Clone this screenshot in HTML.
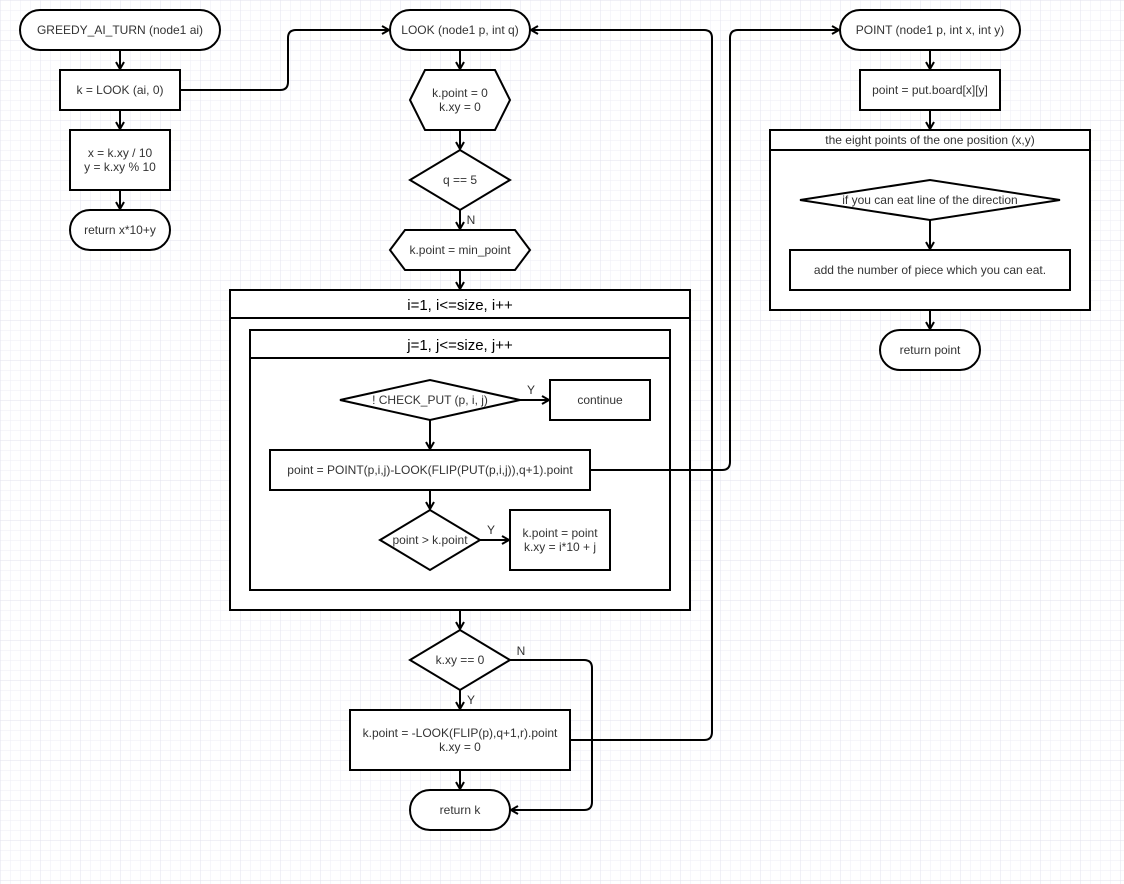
<!DOCTYPE html>
<html><head><meta charset="utf-8"><style>
html,body{margin:0;padding:0;background:#fff}
svg{display:block;font-family:"Liberation Sans",Arial,sans-serif}
</style></head><body>
<svg width="1124" height="884" viewBox="0 0 1124 884" xmlns="http://www.w3.org/2000/svg">
<defs>
<pattern id="g" width="10" height="10" patternUnits="userSpaceOnUse"><path d="M10 0H0V10" fill="none" stroke="#eeeef6" stroke-width="1"/></pattern>
<pattern id="G" width="40" height="40" patternUnits="userSpaceOnUse"><rect width="40" height="40" fill="url(#g)"/><path d="M40 0H0V40" fill="none" stroke="#e2e2ee" stroke-width="1"/></pattern>
<marker id="a" markerWidth="10" markerHeight="10" refX="8" refY="5" orient="auto" markerUnits="userSpaceOnUse"><path d="M1 1L8 5L1 9" fill="none" stroke="#000" stroke-width="2"/></marker>
</defs>
<rect width="1124" height="884" fill="url(#G)"/>
<g fill="#fff" stroke="#000" stroke-width="2">
<rect x="20" y="10" width="200" height="40" rx="20"/>
<rect x="60" y="70" width="120" height="40"/>
<rect x="70" y="130" width="100" height="60"/>
<rect x="70" y="210" width="100" height="40" rx="20"/>
<rect x="390" y="10" width="140" height="40" rx="20"/>
<polygon points="410,100 425,70 495,70 510,100 495,130 425,130"/>
<polygon points="410,180 460,150 510,180 460,210"/>
<polygon points="390,250 405,230 515,230 530,250 515,270 405,270"/>
<rect x="230" y="290" width="460" height="320"/>
<line x1="230" y1="318" x2="690" y2="318"/>
<rect x="250" y="330" width="420" height="260"/>
<line x1="250" y1="358" x2="670" y2="358"/>
<polygon points="340,400 430,380 520,400 430,420"/>
<rect x="550" y="380" width="100" height="40"/>
<rect x="270" y="450" width="320" height="40"/>
<polygon points="380,540 430,510 480,540 430,570"/>
<rect x="510" y="510" width="100" height="60"/>
<polygon points="410,660 460,630 510,660 460,690"/>
<rect x="350" y="710" width="220" height="60"/>
<rect x="410" y="790" width="100" height="40" rx="20"/>
<rect x="840" y="10" width="180" height="40" rx="20"/>
<rect x="860" y="70" width="140" height="40"/>
<rect x="770" y="130" width="320" height="180"/>
<line x1="770" y1="150" x2="1090" y2="150"/>
<polygon points="800,200 930,180 1060,200 930,220"/>
<rect x="790" y="250" width="280" height="40"/>
<rect x="880" y="330" width="100" height="40" rx="20"/>
</g>
<g fill="none" stroke="#000" stroke-width="2" marker-end="url(#a)">
<path d="M120 50V69"/><path d="M120 110V129"/><path d="M120 190V209"/>
<path d="M180 90H280Q288 90 288 82V38Q288 30 296 30H389"/>
<path d="M460 50V69"/><path d="M460 130V149"/><path d="M460 210V229"/><path d="M460 270V289"/>
<path d="M520 400H549"/><path d="M430 420V449"/><path d="M430 490V509"/><path d="M480 540H509"/>
<path d="M590 470H722Q730 470 730 462V38Q730 30 738 30H839"/>
<path d="M570 740H704Q712 740 712 732V38Q712 30 704 30H531"/>
<path d="M460 610V629"/><path d="M460 690V709"/><path d="M460 770V789"/>
<path d="M510 660H584Q592 660 592 668V802Q592 810 584 810H511"/>
<path d="M930 50V69"/><path d="M930 110V129"/><path d="M930 220V249"/><path d="M930 310V329"/>
</g>
<g font-size="12" fill="#333" text-anchor="middle">
<text x="120" y="34">GREEDY_AI_TURN (node1 ai)</text>
<text x="120" y="94">k = LOOK (ai, 0)</text>
<text x="120" y="157">x = k.xy / 10</text><text x="120" y="171">y = k.xy % 10</text>
<text x="120" y="234">return x*10+y</text>
<text x="460" y="34">LOOK (node1 p, int q)</text>
<text x="460" y="97">k.point = 0</text><text x="460" y="111">k.xy = 0</text>
<text x="460" y="184">q == 5</text>
<text x="471" y="224">N</text>
<text x="460" y="254">k.point = min_point</text>
<text x="460" y="310" font-size="15" fill="#000">i=1, i&lt;=size, i++</text>
<text x="460" y="350" font-size="15" fill="#000">j=1, j&lt;=size, j++</text>
<text x="430" y="404">! CHECK_PUT (p, i, j)</text>
<text x="531" y="394">Y</text>
<text x="600" y="404">continue</text>
<text x="430" y="474">point = POINT(p,i,j)-LOOK(FLIP(PUT(p,i,j)),q+1).point</text>
<text x="430" y="544">point &gt; k.point</text>
<text x="491" y="534">Y</text>
<text x="560" y="537">k.point = point</text><text x="560" y="551">k.xy = i*10 + j</text>
<text x="460" y="664">k.xy == 0</text>
<text x="521" y="655">N</text>
<text x="471" y="704">Y</text>
<text x="460" y="737">k.point = -LOOK(FLIP(p),q+1,r).point</text><text x="460" y="751">k.xy = 0</text>
<text x="460" y="814">return k</text>
<text x="930" y="34">POINT (node1 p, int x, int y)</text>
<text x="930" y="94">point = put.board[x][y]</text>
<text x="930" y="144">the eight points of the one position (x,y)</text>
<text x="930" y="204">if you can eat line of the direction</text>
<text x="930" y="274">add the number of piece which you can eat.</text>
<text x="930" y="354">return point</text>
</g>
</svg>
</body></html>
